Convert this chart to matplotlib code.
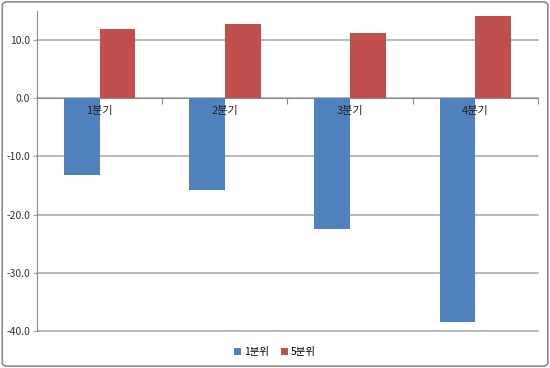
import matplotlib
matplotlib.use('Agg')
import numpy as np
import matplotlib.pyplot as plt
from matplotlib.patches import FancyBboxPatch

plt.rcParams['font.family'] = ['Noto Sans CJK KR', 'DejaVu Sans']

categories = ['1분기', '2분기', '3분기', '4분기']
series_names = ['1분위', '5분위']
q1_values = [-13.2, -15.8, -22.5, -38.5]
q5_values = [11.9, 12.8, 11.2, 14.1]
y_ticks = [-40, -30, -20, -10, 0, 10]

blue = '#4f81bd'
red = '#c0504d'
grid_c = '#a6a6a6'

fig = plt.figure(figsize=(5.5, 3.68), dpi=100)
ax = fig.add_axes([0.0673, 0.1005, 0.9107, 0.8695])

x = np.arange(len(categories))
w = 1 / 3.5
ax.bar(x - w / 2, q1_values, w, color=blue, label=series_names[0], zorder=3)
ax.bar(x + w / 2, q5_values, w, color=red, label=series_names[1], zorder=3)

ax.set_xlim(-0.5, len(categories) - 0.5)
ax.set_ylim(-40, 15)
ax.set_yticks(y_ticks)
ax.set_yticklabels(['%.1f' % v for v in y_ticks], fontsize=7.5, color='#333333')
for v in y_ticks:
    ax.axhline(v, color=grid_c, linewidth=1.1, zorder=0, clip_on=False)
ax.tick_params(axis='y', length=3, color=grid_c, pad=2)

# category axis crosses at zero
ax.spines['bottom'].set_position(('data', 0))
ax.spines['bottom'].set_color('#8c8c8c')
ax.spines['left'].set_color('#8c8c8c')
ax.spines['top'].set_visible(False)
ax.spines['right'].set_visible(False)
ax.set_xticks(np.arange(-0.5, len(categories), 1.0))
ax.set_xticklabels([])
ax.tick_params(axis='x', length=4, color='#8c8c8c', direction='out')

for i, c in enumerate(categories):
    ax.text(i, -1.4, c, ha='center', va='top', fontsize=8, color='#222222', zorder=4)

leg = fig.legend(loc='center', bbox_to_anchor=(0.5, 0.043), ncol=2, frameon=False,
                 fontsize=7.5, handlelength=0.6, handleheight=0.6, handletextpad=0.3,
                 columnspacing=1.2)

border = FancyBboxPatch((0.004, 0.005), 0.992, 0.99, boxstyle='round,pad=0,rounding_size=0.01',
                        transform=fig.transFigure, facecolor='none', edgecolor='#8c8c8c',
                        linewidth=1.2)
fig.patches.append(border)

fig.savefig('out.png', dpi=100)
